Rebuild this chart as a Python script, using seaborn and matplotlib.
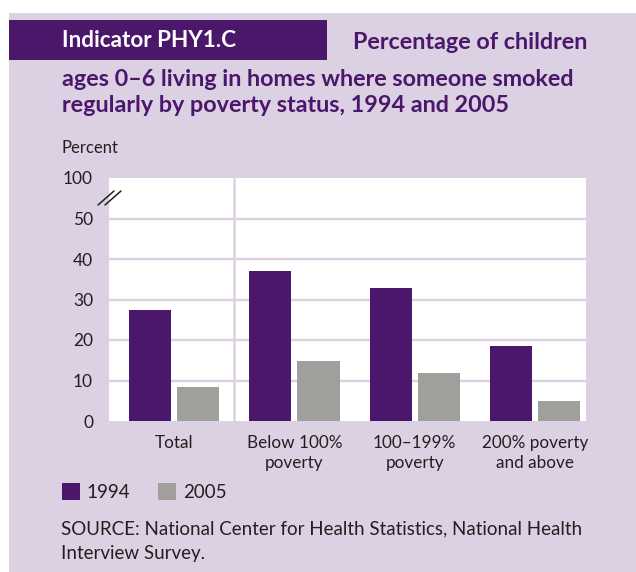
import matplotlib
matplotlib.use('Agg')
import matplotlib.pyplot as plt
import seaborn as sns
import pandas as pd
from matplotlib.patches import Rectangle
from matplotlib.lines import Line2D

# ---- data ----
categories = ['Total', 'Below 100%\npoverty', '100–199%\npoverty', '200% poverty\nand above']
years = ['1994', '2005']
values_1994 = [27.5, 37.1, 32.9, 18.6]
values_2005 = [8.4, 14.9, 11.9, 5.0]
y_ticks = [0, 10, 20, 30, 40, 50, 60]
y_tick_labels = ['0', '10', '20', '30', '40', '50', '100']

BG = '#dcd0e3'
PURPLE = '#4a176b'
GRAY = '#a19f9b'
TEXT = '#231f20'

W, H = 636, 572
sns.set_theme(style='white')
plt.rcParams['font.family'] = ['Lato', 'DejaVu Sans']

fig = plt.figure(figsize=(W / 100, H / 100), dpi=100, facecolor='white')


def fx(px):
    return px / W


def fy(py):
    return 1 - py / H


# lavender panel
fig.patches.append(Rectangle((fx(9), 0), 1, fy(13), transform=fig.transFigure,
                             facecolor=BG, edgecolor='none', zorder=-2))
# title box
fig.patches.append(Rectangle((fx(9), fy(60)), (327 - 9) / W, 40 / H, transform=fig.transFigure,
                             facecolor=PURPLE, edgecolor='none', zorder=-1))

ax = fig.add_axes([fx(109), fy(421), 477 / W, 243 / H])
ax.set_zorder(2)
ax.set_facecolor('white')

df = pd.DataFrame({
    'category': categories * 2,
    'year': [years[0]] * len(categories) + [years[1]] * len(categories),
    'value': values_1994 + values_2005,
})
sns.barplot(data=df, x='category', y='value', hue='year', palette=[PURPLE, GRAY],
            width=0.8, gap=0.125, saturation=1, ax=ax, zorder=3, edgecolor='none')

ax.set_xlim(-0.541, 3.423)
ax.set_ylim(0, 60)
for s in ax.spines.values():
    s.set_visible(False)
for v in y_ticks[1:-1]:
    ax.axhline(v, color=BG, lw=1.7, zorder=1)
ax.axvline(0.5, color=BG, lw=1.8, zorder=1)

ax.set_yticks(y_ticks, y_tick_labels)
ax.tick_params(axis='y', length=0, pad=11.5, labelsize=12.5, labelcolor=TEXT)
ax.tick_params(axis='x', length=0, pad=10, labelsize=12.3, labelcolor=TEXT)
for lab in ax.get_xticklabels():
    lab.set_linespacing(1.28)
ax.set_xlabel('')
ax.set_ylabel('')

sns.move_legend(ax, 'center left', bbox_to_anchor=(fx(61.5), fy(492)),
                bbox_transform=fig.transFigure, ncol=2, frameon=False, title=None,
                fontsize=13.5, handlelength=0.97, handleheight=0.97, handletextpad=0.38,
                columnspacing=1.45, borderpad=0, borderaxespad=0)
for t in ax.get_legend().get_texts():
    t.set_color(TEXT)

# axis break marks
for x0 in (98, 105):
    fig.add_artist(Line2D([fx(x0), fx(x0 + 16)], [fy(205), fy(191)], color=TEXT, lw=1.1,
                          zorder=5))

t_per = fig.text(fx(61), fy(148), 'Percent', ha='left', va='center', fontsize=12, color=TEXT)

t_ind = fig.text(fx(62), fy(47), 'Indicator PHY1.C', ha='left', va='baseline',
                 fontsize=16, fontweight='bold', color='white')
t1 = fig.text(fx(353), fy(49), 'Percentage of children', ha='left', va='baseline',
              fontsize=15, fontweight='bold', color=PURPLE)
t2 = fig.text(fx(62), fy(86), 'ages 0–6 living in homes where someone smoked', ha='left',
              va='baseline', fontsize=15, fontweight='bold', color=PURPLE)
t3 = fig.text(fx(62), fy(112), 'regularly by poverty status, 1994 and 2005', ha='left',
              va='baseline', fontsize=15, fontweight='bold', color=PURPLE)
s1 = fig.text(fx(61), fy(529), 'SOURCE: National Center for Health Statistics, National Health',
              ha='left', va='center', fontsize=12.5, color=TEXT)
s2 = fig.text(fx(61), fy(553), 'Interview Survey.', ha='left', va='center', fontsize=12.5, color=TEXT)

fig.canvas.draw()
r = fig.canvas.get_renderer()


def fit(t, target):
    w = t.get_window_extent(r).width
    t.set_fontsize(t.get_fontsize() * target / w)


fit(t_ind, 175)
fit(t2, 515)
t1.set_fontsize(t2.get_fontsize())
t3.set_fontsize(t2.get_fontsize())
fit(s1, 523)
s2.set_fontsize(s1.get_fontsize())

fig.savefig('out.png', dpi=100, facecolor='white')
